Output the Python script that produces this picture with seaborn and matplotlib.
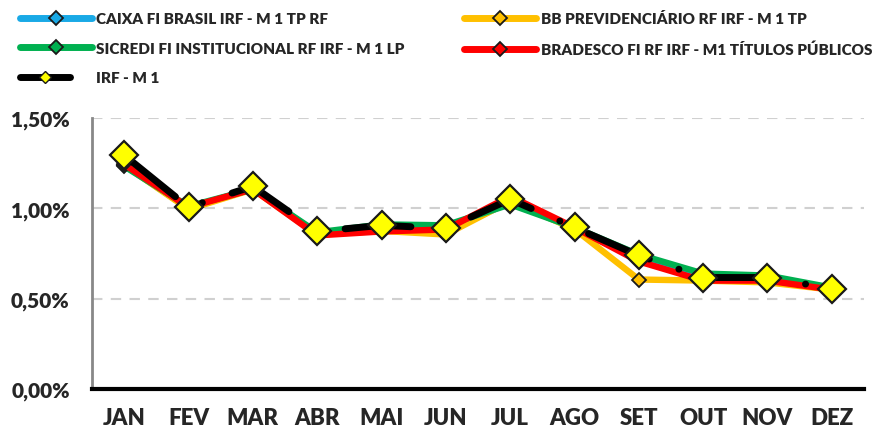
import matplotlib
matplotlib.use("Agg")
import matplotlib.pyplot as plt
import seaborn as sns
import numpy as np
import pandas as pd
from matplotlib.lines import Line2D
from matplotlib.legend_handler import HandlerLine2D
from matplotlib.ticker import FixedLocator, FuncFormatter

months = ["JAN", "FEV", "MAR", "ABR", "MAI", "JUN", "JUL", "AGO", "SET", "OUT", "NOV", "DEZ"]
caixa = [1.24, 1.00, 1.11, 0.86, 0.88, 0.87, 1.035, 0.89, 0.72, 0.61, 0.61, 0.555]
bb = [1.24, 0.995, 1.105, 0.855, 0.875, 0.855, 1.04, 0.885, 0.606, 0.60, 0.59, 0.55]
sicredi = [1.233, 1.011, 1.106, 0.867, 0.911, 0.906, 1.022, 0.894, 0.744, 0.639, 0.628, 0.561]
bradesco = [1.244, 1.006, 1.106, 0.85, 0.872, 0.883, 1.067, 0.894, 0.706, 0.60, 0.60, 0.55]
irf = [1.294, 1.006, 1.122, 0.872, 0.906, 0.889, 1.05, 0.894, 0.739, 0.617, 0.617, 0.556]

labels = ["CAIXA FI BRASIL IRF - M 1 TP RF", "BB PREVIDENCIÁRIO RF IRF - M 1 TP",
          "SICREDI FI INSTITUCIONAL RF IRF - M 1 LP", "BRADESCO FI RF IRF - M1 TÍTULOS PÚBLICOS",
          "IRF - M 1"]
colors = ["#19a9e6", "#ffc000", "#00b050", "#ff0000", "#000000"]

sns.set_theme(style="white")
plt.rcParams['font.family'] = ['Lato', 'DejaVu Sans']

fig = plt.figure(figsize=(8.86, 4.35), dpi=100)
ax = fig.add_axes([92/886, 45/435, (864-92)/886, (390-119)/435])

x = np.arange(len(months))
series = [caixa, bb, sicredi, bradesco]
for vals, col in zip(series, colors[:4]):
    sns.lineplot(x=x, y=vals, ax=ax, color=col, linewidth=4.6, marker="D",
                 markersize=7, markerfacecolor=col, markeredgecolor="#1a1a1a",
                 markeredgewidth=1.3, sort=False, legend=False,
                 solid_capstyle="round", solid_joinstyle="round")

sns.lineplot(x=x, y=irf, ax=ax, color="black", linewidth=5, sort=False, legend=False,
             linestyle=(0, (9.5, 4.5, 0.01, 4.5)), dash_capstyle="round")
sns.lineplot(x=x, y=irf, ax=ax, color="none", linewidth=0, marker="D", markersize=14,
             markerfacecolor="#ffff00", markeredgecolor="#1a1a1a", markeredgewidth=1.6,
             sort=False, legend=False)

ax.set_xlim(-0.5, 11.5)
ax.set_ylim(0, 1.5)
ax.set_xlabel("")
ax.set_ylabel("")
ax.set_xticks(x)
ax.set_xticklabels(months, fontsize=16, fontweight="heavy")
ax.xaxis.set_minor_locator(FixedLocator(np.arange(-0.5, 12, 1)))
ax.tick_params(axis="x", which="major", length=0, pad=13)
ax.tick_params(axis="x", which="minor", length=5, width=2.5, color="black", direction="out")
ax.set_yticks([0, 0.5, 1.0, 1.5])
ax.yaxis.set_major_formatter(FuncFormatter(lambda v, p: f"{v:.2f}%".replace(".", ",")))
for t in ax.get_yticklabels():
    t.set_fontweight("heavy")
    t.set_fontsize(15)
ax.tick_params(axis="y", which="major", length=6, width=2, color="#888888", direction="out", pad=10)
ax.yaxis.grid(True, linestyle=(0, (5, 4)), color="#d0d0d0", linewidth=1.5)
ax.set_axisbelow(True)
for s in ["top", "right"]:
    ax.spines[s].set_visible(False)
ax.spines["left"].set_color("#888888")
ax.spines["left"].set_linewidth(2)
ax.spines["bottom"].set_color("black")
ax.spines["bottom"].set_linewidth(3)
ax.spines["bottom"].set_zorder(5)


class ShortHandler(HandlerLine2D):
    def create_artists(self, legend, orig_handle, xdescent, ydescent, width, height, fontsize, trans):
        w = width * 0.7
        return super().create_artists(legend, orig_handle, xdescent, ydescent, w, height, fontsize, trans)


handles = []
for col, lab in zip(colors[:4], labels[:4]):
    handles.append(Line2D([0], [0], color=col, linewidth=5, marker="D", markersize=7,
                          markerfacecolor=col, markeredgecolor="#1a1a1a", markeredgewidth=1.3,
                          solid_capstyle="round", label=lab))
irf_handle = Line2D([0], [0], color="black", linewidth=5, marker="D", markersize=6,
                    markerfacecolor="#ffff00", markeredgecolor="#1a1a1a", markeredgewidth=1,
                    solid_capstyle="round", label=labels[4])
handles.append(irf_handle)
order = [0, 2, 4, 1, 3]
leg = fig.legend([handles[i] for i in order], [labels[i] for i in order],
                 loc="upper left", bbox_to_anchor=(20/886, 1 - 12/435), ncol=2, frameon=False,
                 prop={"weight": "heavy", "size": 11}, handlelength=4.7, handletextpad=0.3,
                 columnspacing=3.9, labelspacing=1.08, borderaxespad=0, borderpad=0,
                 handler_map={irf_handle: ShortHandler()})

fig.savefig("out.png", dpi=100)
